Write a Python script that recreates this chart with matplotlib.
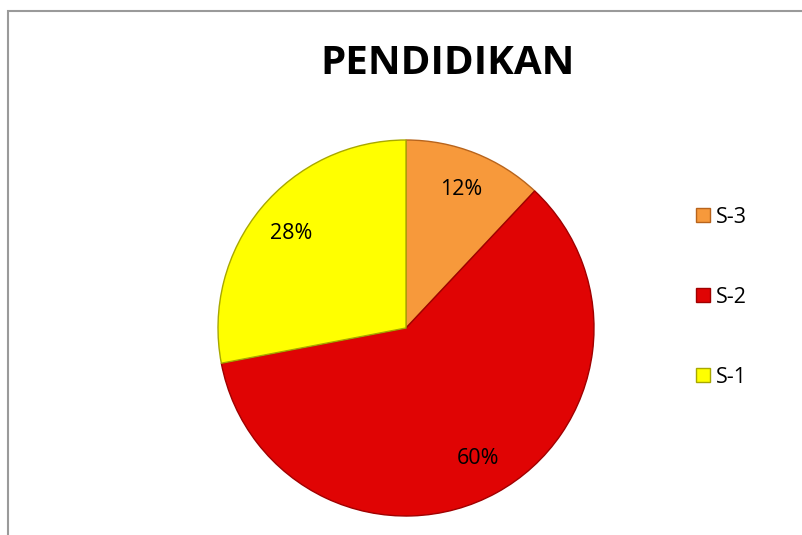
import matplotlib.pyplot as plt
from matplotlib.patches import Rectangle
from matplotlib.lines import Line2D

labels = ["S-3", "S-2", "S-1"]
values = [12, 60, 28]
colors = ["#F7993B", "#E00404", "#FFFF00"]
edges = ["#B8641C", "#A00000", "#A8A800"]

plt.rcParams['font.family'] = ['Open Sans', 'DejaVu Sans']

fig = plt.figure(figsize=(8.03, 5.35), dpi=100)
ax = fig.add_axes([0, 0, 1, 1])
ax.set_xlim(0, 803)
ax.set_ylim(0, 535)
ax.set_aspect('equal')
ax.axis('off')

# chart frame (cut off at right and bottom)
ax.add_patch(Rectangle((8, -20), 900, 535 - 11 + 20, fill=False,
                       edgecolor="#9a9a9a", linewidth=1.5))

wedges, texts, autotexts = ax.pie(values, colors=colors, startangle=90,
                                  counterclock=False, center=(406, 207), radius=188,
                                  autopct='%d%%', pctdistance=0.79,
                                  wedgeprops=dict(linewidth=1.0),
                                  textprops=dict(fontsize=15.5, color='black'))
for w, e in zip(wedges, edges):
    w.set_edgecolor(e)

ax.set_xlim(0, 803)
ax.set_ylim(0, 535)

ax.text(448, 535 - 63, "PENDIDIKAN", ha='center', va='center',
        fontsize=29, fontweight='bold')

handles = [Line2D([], [], marker='s', linestyle='none', markersize=10,
                  markerfacecolor=c, markeredgecolor=e)
           for c, e in zip(colors, edges)]
leg = ax.legend(handles, labels, loc='upper left', bbox_to_anchor=(684 / 803, 1 - 198 / 535),
                frameon=False, fontsize=15.5, labelspacing=2.75, handletextpad=0.1,
                handlelength=1.0, borderaxespad=0)

fig.savefig("out.png", dpi=100)
